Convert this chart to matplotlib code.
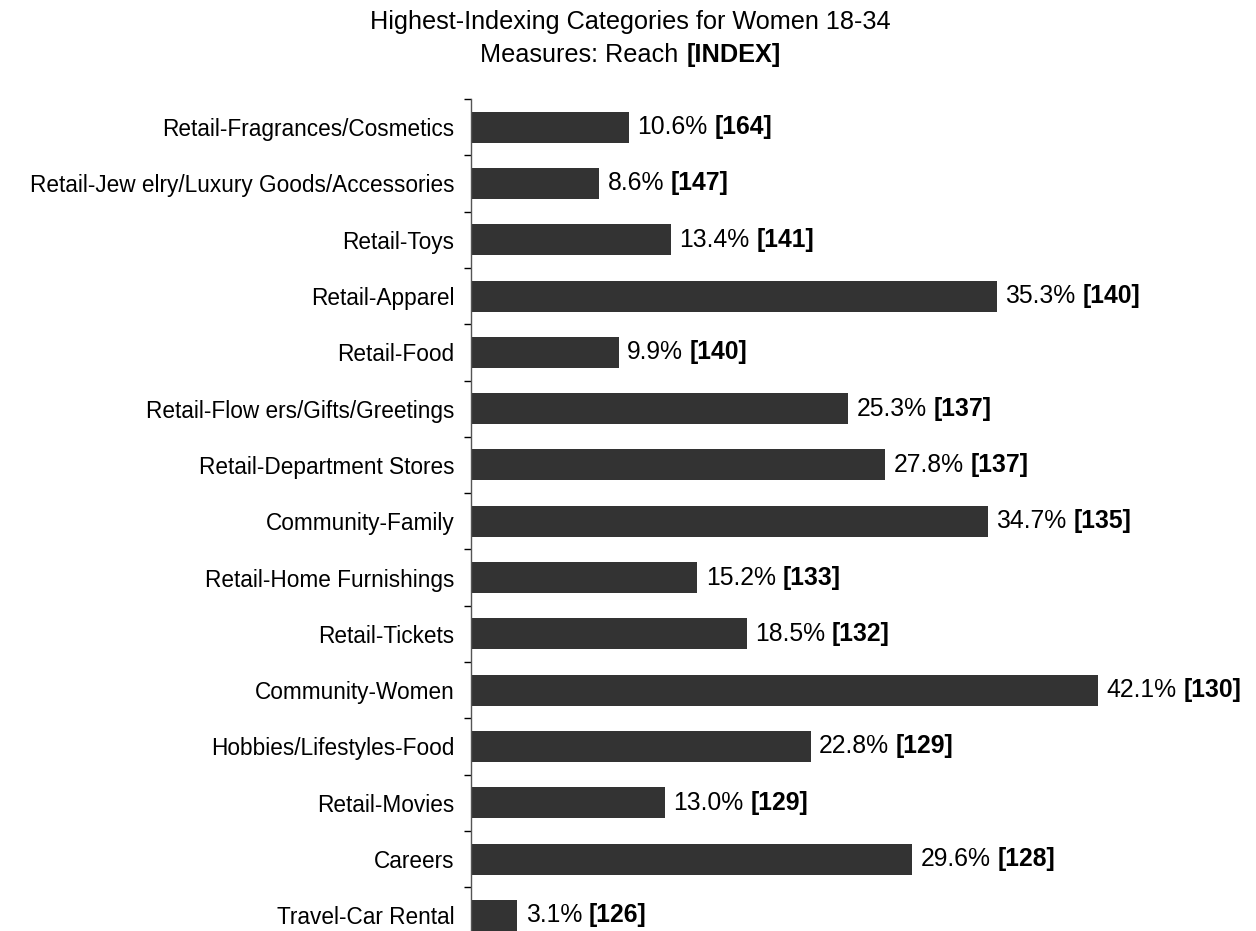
import numpy as np
import matplotlib.pyplot as plt

categories = [
    "Retail-Fragrances/Cosmetics",
    "Retail-Jew elry/Luxury Goods/Accessories",
    "Retail-Toys",
    "Retail-Apparel",
    "Retail-Food",
    "Retail-Flow ers/Gifts/Greetings",
    "Retail-Department Stores",
    "Community-Family",
    "Retail-Home Furnishings",
    "Retail-Tickets",
    "Community-Women",
    "Hobbies/Lifestyles-Food",
    "Retail-Movies",
    "Careers",
    "Travel-Car Rental",
]
reach = [10.6, 8.6, 13.4, 35.3, 9.9, 25.3, 27.8, 34.7, 15.2, 18.5, 42.1, 22.8, 13.0, 29.6, 3.1]
index = [164, 147, 141, 140, 140, 137, 137, 135, 133, 132, 130, 129, 129, 128, 126]

plt.rcParams["font.family"] = ["Liberation Sans", "DejaVu Sans"]

W, H = 1256, 931
fig = plt.figure(figsize=(W / 100, H / 100), dpi=100)

# axes placed in pixel terms: left spine at x=471, rows 56.3 px apart from y=99
px_per_pct = 14.9
xmax = 50
left, top = 471, 99
row_h = 56.3
n = len(categories)
ax_h = row_h * n
ax = fig.add_axes([left / W, (H - top - ax_h) / H, xmax * px_per_pct / W, ax_h / H])

y = np.arange(n)
ax.barh(y, reach, height=0.55, color="#333333")
ax.set_xlim(0, xmax)
ax.set_ylim(n - 0.5, -0.5)

ax.set_yticks(y)
ax.set_yticklabels(categories, fontsize=16.3)
ax.set_yticks(np.arange(n + 1) - 0.5, minor=True)
ax.tick_params(axis="y", which="major", length=0, pad=12)
ax.tick_params(axis="y", which="minor", length=5, width=1, color="black", direction="out")
ax.set_xticks([])
for s in ["top", "right", "bottom"]:
    ax.spines[s].set_visible(False)
ax.spines["left"].set_color("#555555")
ax.spines["left"].set_linewidth(1)

for yi, r, idx in zip(y, reach, index):
    t = ax.annotate(f"{r:.1f}%", xy=(r, yi), xytext=(6, 0), textcoords="offset points",
                    va="center", ha="left", fontsize=17.8)
    ax.annotate(f"[{idx}]", xy=(1, 0), xycoords=t, xytext=(5, 0), textcoords="offset points",
                va="bottom", ha="left", fontsize=17.8, fontweight="bold")

fig.text(630 / W, 1 - 22 / H, "Highest-Indexing Categories for Women 18-34",
         ha="center", va="center", fontsize=18.2)
fig.text(678 / W, 1 - 55 / H, "Measures: Reach", ha="right", va="center", fontsize=18.2)
fig.text(687 / W, 1 - 55 / H, "[INDEX]", ha="left", va="center", fontsize=18.2, fontweight="bold")

fig.savefig("out.png", dpi=100)
